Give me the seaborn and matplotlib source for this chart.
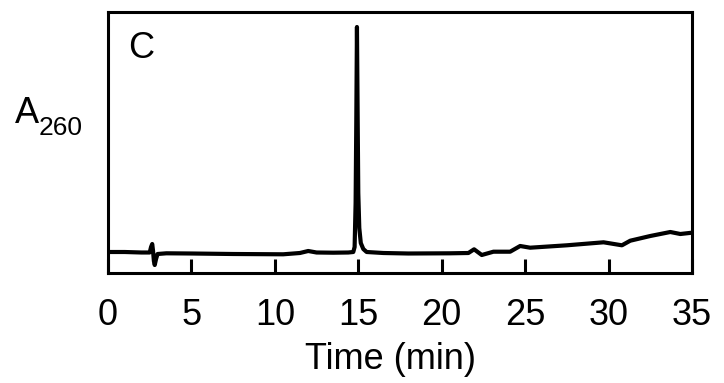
import matplotlib
matplotlib.use("Agg")
import matplotlib.pyplot as plt
import seaborn as sns
import pandas as pd

# Chromatogram trace (time in min, A260 in arbitrary units)
time_min = [0.0, 1.0, 2.0, 2.5, 2.58, 2.65, 2.70, 2.75, 2.80, 2.88, 2.97, 3.5,
            5.0, 7.5, 10.5, 11.5, 12.0, 12.5, 13.5, 14.4, 14.70, 14.78, 14.84,
            14.88, 14.92, 14.96, 15.00, 15.06, 15.15, 15.30, 15.50, 16.5, 18.0,
            20.5, 21.6, 21.94, 22.4, 23.1, 24.1, 24.7, 25.3, 27.5, 29.7, 30.8,
            31.3, 32.5, 33.7, 34.3, 35.0]
a260 = [21, 21, 20.5, 20.5, 26, 29, 22, 12, 8, 14, 19, 19.7,
        19.5, 19, 18.7, 20, 22, 20.5, 20.3, 20.5, 21, 26, 70,
        150, 246, 160, 80, 45, 30, 24, 21, 20, 19.5,
        19.7, 20, 23.7, 18, 21.3, 21.3, 27, 25.3, 27.7, 30.7, 27.7,
        32.3, 37, 41, 39, 40.3]
x_ticks = [0, 5, 10, 15, 20, 25, 30, 35]

sns.set_theme(style="white")
plt.rcParams["font.family"] = ["Liberation Sans", "DejaVu Sans"]

df = pd.DataFrame({"time": time_min, "a260": a260})

fig = plt.figure(figsize=(7.24, 3.83), dpi=100)
ax = fig.add_axes([108 / 724, 1 - 273 / 383, (692 - 108) / 724, (273 - 12) / 383])

sns.lineplot(data=df, x="time", y="a260", ax=ax, color="black", linewidth=3.0,
             estimator=None, sort=False)

ax.set_xlim(0, 35)
ax.set_ylim(0, 261)
ax.set_xticks(x_ticks)
ax.set_xticklabels([str(t) for t in x_ticks])
ax.set_yticks([])
ax.set_ylabel("")
ax.set_xlabel("Time (min)", fontsize=26, color="black")
ax.xaxis.set_label_coords((390 - 108) / 584, -(369 - 273) / 261, transform=ax.transAxes)
ax.xaxis.label.set_va("baseline")
ax.tick_params(axis="x", direction="in", length=10, width=2.2, pad=18,
               labelsize=26, colors="black", bottom=True, top=False)
for s in ax.spines.values():
    s.set_visible(True)
    s.set_color("black")
    s.set_linewidth(2.2)

ax.text(0.034, 0.86, "C", transform=ax.transAxes, fontsize=26,
        ha="left", va="center", color="black")
fig.text(15 / 724, 1 - 123 / 383, "A", fontsize=26,
         ha="left", va="baseline", color="black")
fig.text(39 / 724, 1 - 135 / 383, "260", fontsize=19,
         ha="left", va="baseline", color="black")

fig.savefig("out.png", dpi=100, facecolor="white")
